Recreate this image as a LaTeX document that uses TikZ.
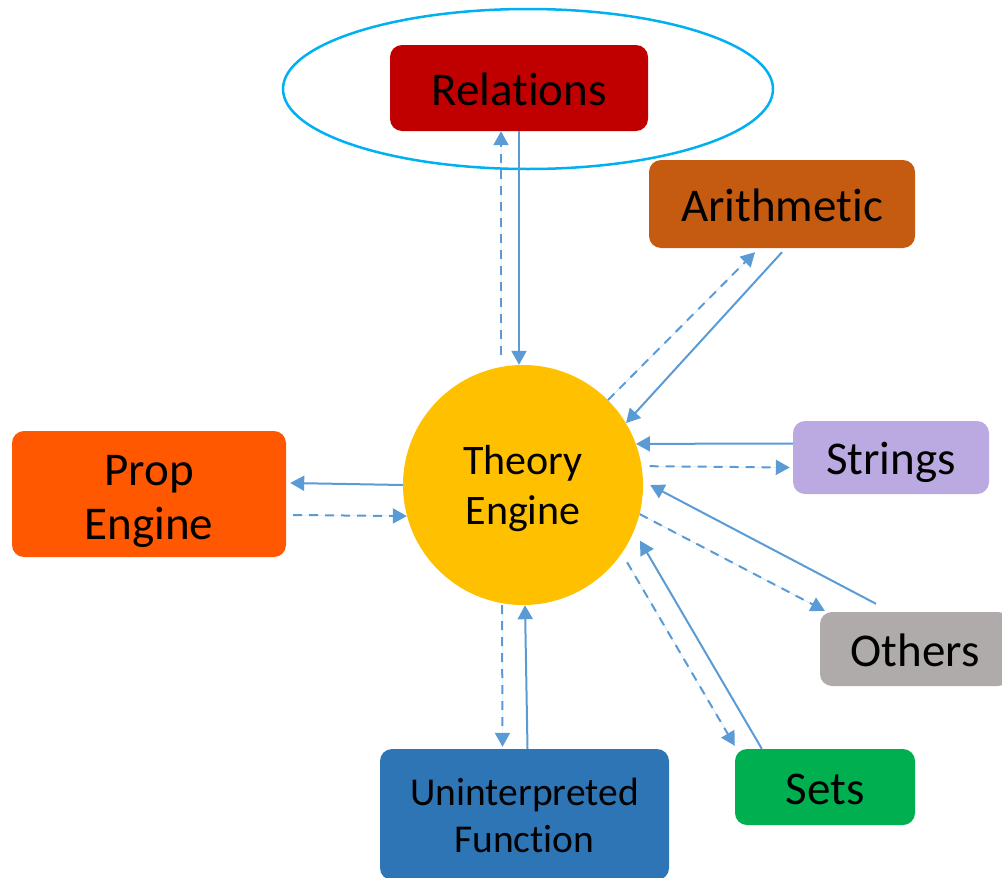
\documentclass[tikz,border=0pt]{standalone}
\usepackage{fontspec}
\setmainfont{Carlito}[Ligatures=NoCommon]
\usetikzlibrary{shapes.geometric, arrows.meta}

\definecolor{relred}{RGB}{192,0,0}
\definecolor{arithbrown}{RGB}{197,90,17}
\definecolor{propred}{RGB}{255,88,0}
\definecolor{strlilac}{RGB}{187,170,226}
\definecolor{othgrey}{RGB}{175,171,171}
\definecolor{setgreen}{RGB}{0,176,80}
\definecolor{funblue}{RGB}{46,117,182}
\definecolor{coregold}{RGB}{255,192,0}
\definecolor{linkblue}{RGB}{91,155,213}
\definecolor{ringcyan}{RGB}{0,176,240}

\begin{document}
\begin{tikzpicture}[x=1pt, y=-1pt,
    module/.style={rectangle, rounded corners=12pt, inner sep=0pt, align=center, text height=34pt, text depth=0pt, font=\fontsize{47pt}{54pt}\selectfont},
    core/.style={circle, fill=coregold, minimum size=240pt, inner sep=0pt, align=center, text height=79pt, text depth=0pt, font=\fontsize{42pt}{50pt}\selectfont},
    call/.style={-{Triangle[length=14pt, width=15pt]}, draw=linkblue, fill=linkblue, line width=2pt},
    reply/.style={call, dash pattern=on 9pt off 7pt}
]
\clip (0,0) rectangle (1002,878);

% Highlight
\node (ring) [ellipse, draw=ringcyan, line width=2.5pt, minimum width=490pt, minimum height=160pt] at (528,89) {};

% Engine
\node (theory) [core] at (523,485) {Theory\\Engine};

% Theories
\node (relations) [module, fill=relred, minimum width=258pt, minimum height=86pt] at (519,88) {Relations};
\node (arithmetic) [module, fill=arithbrown, minimum width=266pt, minimum height=88pt] at (782,204) {Arithmetic};
\node (strings) [module, fill=strlilac, minimum width=196pt, minimum height=73pt] at (891,457.5) {Strings};
\node (others) [module, fill=othgrey, minimum width=190pt, minimum height=74pt] at (915,649) {Others};
\node (sets) [module, fill=setgreen, minimum width=180pt, minimum height=76pt] at (825,787) {Sets};
\node (function) [module, fill=funblue, minimum width=289pt, minimum height=131pt, text height=76pt, font=\fontsize{39.5pt}{47pt}\selectfont] at (524.5,814.5) {Uninterpreted\\Function};
\node (prop) [module, fill=propred, minimum width=274pt, minimum height=126pt, text height=90pt] at (149,494) {Prop\\Engine};

% Arrows
\draw [reply] ([xshift=-22pt,yshift=10pt]theory.north) -- ([xshift=-18pt]relations.south);
\draw [call] (relations.south) -- (relations.south |- theory.north);

\draw [reply] (theory.45) -- ([xshift=-27pt,yshift=-4pt]arithmetic.south);
\draw [call] ([yshift=-4pt]arithmetic.south) -- (theory.31);

\draw [call] ([yshift=14pt]strings.west) -- (theory.20);
\draw [reply] ([xshift=8pt]theory.9) -- ([xshift=-3pt,yshift=-10pt]strings.west);

\draw [call] ([xshift=-39pt,yshift=8pt]others.north) -- ([xshift=7pt]theory.0);
\draw [reply] (theory.-14) -- ([xshift=5pt,yshift=1pt]others.north west);

\draw [call] ([xshift=27pt]sets.north west) -- ([xshift=9pt,yshift=-3pt]theory.-26);
\draw [reply] ([xshift=12pt]theory.-40) -- ([yshift=3pt]sets.north west);

\draw [reply] ([xshift=-21pt]theory.south) -- ([xshift=-22pt,yshift=2pt]function.north);
\draw [call] ([xshift=3pt]function.north) -- ([xshift=2pt]theory.south);

\draw [call] (theory.west) -- ([xshift=4pt,yshift=11pt]prop.east);
\draw [reply] ([xshift=7pt,yshift=-21pt]prop.east) -- (theory.195);

\end{tikzpicture}
\end{document}
